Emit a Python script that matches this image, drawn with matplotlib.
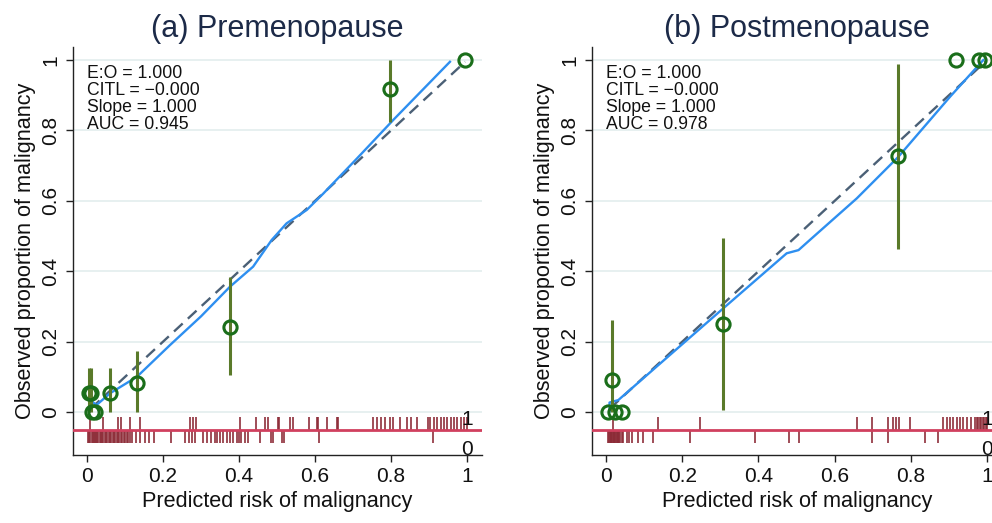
import matplotlib
matplotlib.use("Agg")
import matplotlib.pyplot as plt
import numpy as np

plt.rcParams['font.family'] = ['Liberation Sans', 'DejaVu Sans']

titles = ["(a) Premenopause", "(b) Postmenopause"]
stats_text = [
    ["E:O = 1.000", "CITL = \u22120.000", "Slope = 1.000", "AUC = 0.945"],
    ["E:O = 1.000", "CITL = \u22120.000", "Slope = 1.000", "AUC = 0.978"],
]

# Grouped observed proportions with 95% CI
pre_x = [0.006, 0.010, 0.012, 0.020, 0.060, 0.132, 0.376, 0.797, 0.994]
pre_y = [0.055, 0.055, 0.000, 0.000, 0.055, 0.083, 0.242, 0.917, 1.000]
pre_lo = [0.000, 0.000, 0.000, 0.000, 0.000, 0.000, 0.105, 0.825, 1.000]
pre_hi = [0.126, 0.126, 0.000, 0.000, 0.124, 0.173, 0.383, 1.000, 1.000]

post_x = [0.006, 0.015, 0.024, 0.041, 0.308, 0.767, 0.919, 0.979, 0.994]
post_y = [0.000, 0.091, 0.000, 0.000, 0.249, 0.727, 1.000, 1.000, 1.000]
post_lo = [0.000, 0.000, 0.000, 0.000, 0.006, 0.462, 1.000, 1.000, 1.000]
post_hi = [0.000, 0.261, 0.000, 0.000, 0.494, 0.990, 1.000, 1.000, 1.000]

# Smoothed calibration curves
pre_curve_x = [0.008, 0.008, 0.025, 0.060, 0.131, 0.218, 0.300, 0.376, 0.437, 0.486,
               0.525, 0.578, 0.622, 0.710, 0.806, 0.955]
pre_curve_y = [0.034, 0.034, 0.020, 0.053, 0.100, 0.190, 0.272, 0.356, 0.413, 0.489,
               0.536, 0.574, 0.621, 0.720, 0.830, 0.995]

post_curve_x = [0.009, 0.009, 0.032, 0.142, 0.308, 0.474, 0.505, 0.535, 0.658, 0.767,
                0.903, 0.990]
post_curve_y = [0.002, 0.027, 0.034, 0.138, 0.295, 0.451, 0.460, 0.489, 0.607, 0.725,
                0.896, 1.000]

# Rug: predicted risks of malignant (1) and benign (0) cases
pre_ones = [0.008, 0.041, 0.082, 0.089, 0.113, 0.138, 0.271, 0.280, 0.287, 0.403,
            0.444, 0.468, 0.475, 0.502, 0.505, 0.534, 0.543, 0.584, 0.604, 0.609,
            0.631, 0.657, 0.660, 0.753, 0.764, 0.774, 0.784, 0.796, 0.806, 0.824,
            0.843, 0.852, 0.868, 0.896, 0.903, 0.913, 0.922, 0.931, 0.939, 0.948,
            0.957, 0.966, 0.974, 0.983, 0.992, 0.999]
pre_zeros = [0.003, 0.006, 0.009, 0.012, 0.015, 0.018, 0.021, 0.024, 0.027, 0.030,
             0.033, 0.036, 0.040, 0.043, 0.046, 0.050, 0.053, 0.057, 0.060, 0.064,
             0.067, 0.071, 0.074, 0.078, 0.081, 0.085, 0.089, 0.093, 0.097, 0.101,
             0.105, 0.109, 0.113, 0.117, 0.129, 0.138, 0.153, 0.163, 0.176, 0.220,
             0.258, 0.267, 0.275, 0.284, 0.306, 0.315, 0.326, 0.337, 0.341, 0.350,
             0.359, 0.368, 0.376, 0.385, 0.394, 0.400, 0.405, 0.416, 0.424, 0.455,
             0.484, 0.490, 0.512, 0.518, 0.610, 0.911]

post_ones = [0.019, 0.137, 0.247, 0.658, 0.697, 0.739, 0.754, 0.760, 0.770, 0.798,
             0.885, 0.894, 0.902, 0.911, 0.920, 0.929, 0.937, 0.948, 0.959, 0.969,
             0.973, 0.977, 0.981, 0.985, 0.989, 0.993, 0.996, 0.999]
post_zeros = [0.006, 0.008, 0.010, 0.012, 0.014, 0.016, 0.018, 0.020, 0.022, 0.024,
              0.026, 0.028, 0.030, 0.032, 0.034, 0.037, 0.041, 0.045, 0.056, 0.061,
              0.067, 0.083, 0.096, 0.123, 0.219, 0.391, 0.479, 0.505, 0.697, 0.741,
              0.837, 0.870]

yticks = [0, 0.2, 0.4, 0.6, 0.8, 1]
ytick_labels = ["0", "0.2", "0.4", "0.6", "0.8", "1"]
xticks = [0, 0.2, 0.4, 0.6, 0.8, 1]
xtick_labels = ["0", "0.2", "0.4", "0.6", "0.8", "1"]

W, H = 992, 523
fig = plt.figure(figsize=(W / 100, H / 100), dpi=100)

panels = [
    dict(left=73, unit=380, px=pre_x, py=pre_y, lo=pre_lo, hi=pre_hi,
         cx=pre_curve_x, cy=pre_curve_y, ones=pre_ones, zeros=pre_zeros),
    dict(left=592, unit=381, px=post_x, py=post_y, lo=post_lo, hi=post_hi,
         cx=post_curve_x, cy=post_curve_y, ones=post_ones, zeros=post_zeros),
]

xmin, xmax = -0.037, 1.039
ymin, ymax = -0.122, 1.037
bottom_px, top_px = 455, 47

for i, p in enumerate(panels):
    width_px = (xmax - xmin) * p['unit']
    ax = fig.add_axes([p['left'] / W, (H - bottom_px) / H, width_px / W,
                       (bottom_px - top_px) / H])
    ax.set_xlim(xmin, xmax)
    ax.set_ylim(ymin, ymax)
    for yt in yticks:
        ax.axhline(yt, color='#e3edee', lw=1.2, zorder=0)
    # diagonal reference
    ax.plot([0.01, 0.995], [0.01, 0.995], color='#4b6076', lw=1.7,
            dashes=(5, 3), zorder=2)
    # smooth curve
    ax.plot(p['cx'], p['cy'], color='#2e8ff0', lw=1.7, zorder=3)
    # error bars
    ax.vlines(p['px'], p['lo'], p['hi'], color='#5a7a2a', lw=2.2, zorder=4)
    ax.plot(p['px'], p['py'], 'o', mfc='none', mec='#1a6e1a', mew=2.2,
            ms=9.5, zorder=5)
    # rug
    ax.axhline(-0.051, color='#d0405e', lw=2, zorder=3)
    ax.vlines(p['ones'], -0.051, -0.015, color='#8c2a36', lw=1.3, alpha=0.9, zorder=2)
    ax.vlines(p['zeros'], -0.087, -0.051, color='#8c2a36', lw=1.3, alpha=0.9, zorder=2)
    ax.text(1.0, -0.021, "1", ha='center', va='center', fontsize=15, color='#111111')
    ax.text(1.0, -0.107, "0", ha='center', va='center', fontsize=15, color='#111111')

    ax.text(0.0, 0.985, "\n".join(stats_text[i]), ha='left', va='top',
            fontsize=12.7, linespacing=1.0, color='#111111')

    ax.set_xticks(xticks)
    ax.set_xticklabels(xtick_labels)
    ax.set_yticks(yticks)
    ax.set_yticklabels(ytick_labels, rotation=90, va='center')
    ax.tick_params(axis='both', labelsize=15, length=5, width=1, colors='#222222',
                   labelcolor='#111111', pad=4)
    for s in ['top', 'right']:
        ax.spines[s].set_visible(False)
    for s in ['left', 'bottom']:
        ax.spines[s].set_color('#222222')
        ax.spines[s].set_linewidth(1)
    ax.set_xlabel("Predicted risk of malignancy", fontsize=15.6, color='#111111',
                  labelpad=3)
    ax.set_ylabel("Observed proportion of malignancy", fontsize=15.6, color='#111111',
                  labelpad=4)
    ax.set_title(titles[i], fontsize=22, color='#1c2a48', pad=7)

fig.savefig("out.png", dpi=100)
